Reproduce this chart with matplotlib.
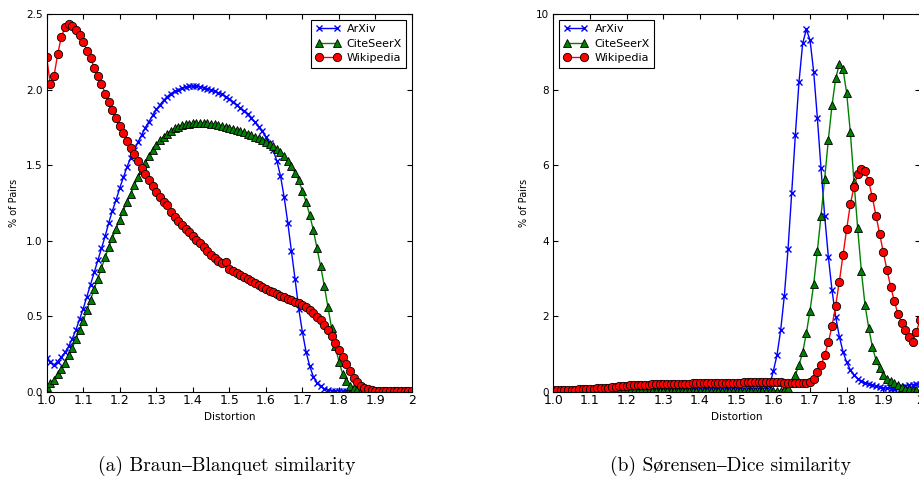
import matplotlib
matplotlib.use('Agg')
import matplotlib.pyplot as plt
import numpy as np

plt.rcParams.update({
    'font.family': 'DejaVu Sans',
    'axes.linewidth': 0.8,
    'xtick.direction': 'in',
    'ytick.direction': 'in',
    'xtick.top': True,
    'ytick.right': True,
    'xtick.major.size': 3.5,
    'ytick.major.size': 3.5,
    'xtick.major.pad': 2,
    'ytick.major.pad': 3,
})

# distortion grid (step 0.01)
distortion = np.linspace(1.0, 2.0, 101)

# ---- (a) Braun-Blanquet: % of pairs per distortion bin ----
bb_arxiv = [
    0.225, 0.195, 0.178, 0.20, 0.23, 0.26, 0.30, 0.35, 0.41, 0.48,
    0.55, 0.63, 0.71, 0.79, 0.87, 0.95, 1.03, 1.12, 1.20, 1.27,
    1.35, 1.42, 1.49, 1.55, 1.60, 1.655, 1.70, 1.75, 1.79, 1.83,
    1.87, 1.90, 1.93, 1.955, 1.975, 1.99, 2.0, 2.01, 2.018, 2.022,
    2.025, 2.024, 2.02, 2.015, 2.008, 2.0, 1.99, 1.98, 1.97, 1.955,
    1.94, 1.92, 1.90, 1.88, 1.86, 1.84, 1.81, 1.785, 1.755, 1.725,
    1.69, 1.65, 1.60, 1.53, 1.43, 1.29, 1.12, 0.93, 0.745, 0.55,
    0.395, 0.265, 0.17, 0.10, 0.06, 0.035, 0.02, 0.012, 0.008, 0.006,
    0.005, 0.005, 0.004, 0.004, 0.004, 0.004, 0.003, 0.003, 0.003, 0.003,
    0.003, 0.003, 0.003, 0.003, 0.003, 0.003, 0.003, 0.003, 0.003, 0.003,
    0.003,
]
bb_citeseerx = [
    0.03, 0.055, 0.08, 0.115, 0.15, 0.19, 0.24, 0.29, 0.35, 0.41,
    0.47, 0.54, 0.61, 0.68, 0.75, 0.82, 0.89, 0.96, 1.02, 1.08,
    1.14, 1.20, 1.26, 1.31, 1.37, 1.42, 1.47, 1.515, 1.56, 1.60,
    1.635, 1.665, 1.69, 1.71, 1.73, 1.745, 1.755, 1.765, 1.772, 1.776,
    1.778, 1.779, 1.779, 1.778, 1.777, 1.775, 1.772, 1.767, 1.762, 1.756,
    1.75, 1.743, 1.735, 1.727, 1.718, 1.709, 1.70, 1.69, 1.68, 1.668,
    1.655, 1.64, 1.625, 1.605, 1.585, 1.56, 1.53, 1.495, 1.45, 1.40,
    1.33, 1.26, 1.17, 1.07, 0.95, 0.83, 0.70, 0.56, 0.42, 0.30,
    0.20, 0.12, 0.07, 0.04, 0.025, 0.015, 0.01, 0.007, 0.005, 0.004,
    0.004, 0.003, 0.003, 0.003, 0.003, 0.003, 0.003, 0.003, 0.003, 0.003,
    0.003,
]
bb_wikipedia = [
    2.215, 2.036, 2.09, 2.235, 2.35, 2.414, 2.434, 2.42, 2.396, 2.363,
    2.317, 2.26, 2.21, 2.147, 2.094, 2.04, 1.975, 1.92, 1.866, 1.813,
    1.758, 1.712, 1.659, 1.612, 1.572, 1.528, 1.484, 1.444, 1.404, 1.362,
    1.322, 1.29, 1.256, 1.237, 1.19, 1.158, 1.132, 1.105, 1.08, 1.055,
    1.03, 1.005, 0.982, 0.958, 0.934, 0.908, 0.886, 0.866, 0.855, 0.862,
    0.81, 0.80, 0.788, 0.773, 0.758, 0.744, 0.731, 0.718, 0.706, 0.694,
    0.682, 0.670, 0.659, 0.648, 0.636, 0.625, 0.615, 0.605, 0.595, 0.585,
    0.572, 0.558, 0.542, 0.522, 0.498, 0.474, 0.445, 0.41, 0.368, 0.322,
    0.277, 0.232, 0.184, 0.135, 0.092, 0.062, 0.04, 0.025, 0.016, 0.011,
    0.008, 0.006, 0.005, 0.005, 0.005, 0.004, 0.004, 0.004, 0.004, 0.004,
    0.004,
]

# ---- (b) Sorensen-Dice ----
sd_arxiv = [
    0.01, 0.01, 0.012, 0.012, 0.013, 0.014, 0.015, 0.016, 0.018, 0.02,
    0.022, 0.024, 0.026, 0.028, 0.03, 0.033, 0.036, 0.039, 0.042, 0.045,
    0.048, 0.05, 0.052, 0.054, 0.056, 0.058, 0.06, 0.061, 0.062, 0.063,
    0.064, 0.065, 0.065, 0.066, 0.066, 0.067, 0.067, 0.067, 0.068, 0.068,
    0.068, 0.068, 0.069, 0.069, 0.069, 0.069, 0.07, 0.07, 0.07, 0.07,
    0.07, 0.07, 0.07, 0.07, 0.07, 0.072, 0.075, 0.08, 0.10, 0.16,
    0.55, 0.97, 1.63, 2.54, 3.77, 5.26, 6.80, 8.21, 9.23, 9.60,
    9.32, 8.48, 7.26, 5.92, 4.66, 3.58, 2.69, 1.99, 1.46, 1.06,
    0.78, 0.58, 0.44, 0.35, 0.28, 0.24, 0.20, 0.17, 0.14, 0.12,
    0.10, 0.09, 0.08, 0.08, 0.09, 0.12, 0.15, 0.18, 0.19, 0.20,
    0.20,
]
sd_citeseerx = [
    0.005, 0.005, 0.005, 0.006, 0.006, 0.006, 0.007, 0.007, 0.008, 0.008,
    0.009, 0.009, 0.01, 0.01, 0.011, 0.012, 0.012, 0.013, 0.014, 0.015,
    0.016, 0.016, 0.017, 0.018, 0.018, 0.019, 0.019, 0.02, 0.02, 0.02,
    0.021, 0.021, 0.021, 0.022, 0.022, 0.022, 0.022, 0.023, 0.023, 0.023,
    0.023, 0.023, 0.024, 0.024, 0.024, 0.024, 0.024, 0.025, 0.025, 0.025,
    0.025, 0.025, 0.025, 0.025, 0.025, 0.025, 0.025, 0.026, 0.026, 0.027,
    0.028, 0.029, 0.03, 0.05, 0.10, 0.22, 0.44, 0.71, 1.04, 1.55,
    2.15, 2.85, 3.73, 4.66, 5.65, 6.67, 7.59, 8.30, 8.68, 8.55,
    7.91, 6.87, 5.56, 4.33, 3.20, 2.30, 1.70, 1.19, 0.84, 0.62,
    0.44, 0.34, 0.28, 0.22, 0.17, 0.12, 0.08, 0.06, 0.05, 0.04,
    0.03,
]
sd_wikipedia = [
    0.04, 0.04, 0.045, 0.045, 0.05, 0.05, 0.055, 0.06, 0.065, 0.07,
    0.075, 0.08, 0.09, 0.095, 0.10, 0.11, 0.12, 0.13, 0.14, 0.15,
    0.16, 0.165, 0.17, 0.175, 0.18, 0.185, 0.19, 0.195, 0.20, 0.20,
    0.205, 0.207, 0.209, 0.21, 0.212, 0.214, 0.215, 0.216, 0.218, 0.22,
    0.222, 0.224, 0.226, 0.228, 0.23, 0.232, 0.234, 0.236, 0.238, 0.24,
    0.242, 0.244, 0.245, 0.246, 0.247, 0.248, 0.249, 0.25, 0.25, 0.25,
    0.25, 0.25, 0.245, 0.24, 0.235, 0.23, 0.23, 0.235, 0.24, 0.24,
    0.26, 0.35, 0.51, 0.70, 0.97, 1.31, 1.74, 2.28, 2.92, 3.62,
    4.31, 4.97, 5.43, 5.77, 5.89, 5.84, 5.58, 5.15, 4.66, 4.18,
    3.69, 3.22, 2.78, 2.40, 2.05, 1.83, 1.64, 1.46, 1.32, 1.59,
    1.90,
]

series_names = ['ArXiv', 'CiteSeerX', 'Wikipedia']
xtick_vals = [1.0, 1.1, 1.2, 1.3, 1.4, 1.5, 1.6, 1.7, 1.8, 1.9, 2.0]
xtick_labels = ['1.0', '1.1', '1.2', '1.3', '1.4', '1.5', '1.6', '1.7', '1.8', '1.9', '2']

styles = [
    dict(color='b', marker='x', ms=5, mew=1.0, lw=1.0),
    dict(color='g', marker='^', ms=6, mec='k', mew=0.6, lw=1.0),
    dict(color='r', marker='o', ms=6, mec='k', mew=0.6, lw=1.0),
]

fig = plt.figure(figsize=(9.19, 4.78), dpi=100)
ax1 = fig.add_axes([0.0508, 0.1805, 0.3975, 0.7895])
ax2 = fig.add_axes([0.6021, 0.1805, 0.3990, 0.7895])


def draw_panel(ax, data, yticks, yfmt, legend_loc):
    for name, vals, st in zip(series_names, data, styles):
        ax.plot(distortion, vals, label=name, **st)
    ax.set_xlim(1.0, 2.0)
    ax.set_ylim(yticks[0], yticks[-1])
    ax.set_xticks(xtick_vals)
    ax.set_xticklabels(xtick_labels)
    ax.set_yticks(yticks)
    ax.set_yticklabels([yfmt.format(v) for v in yticks])
    ax.tick_params(axis='x', labelsize=9)
    ax.tick_params(axis='y', labelsize=7.5)
    ax.set_xlabel('Distortion', fontsize=7.5, labelpad=3)
    ax.set_ylabel('% of Pairs', fontsize=7, labelpad=5)
    leg = ax.legend(loc=legend_loc, fontsize=8, numpoints=2, fancybox=False,
                    framealpha=1.0, edgecolor='k', handlelength=2.2,
                    borderaxespad=0.5, labelspacing=0.4, handletextpad=0.6)
    leg.get_frame().set_linewidth(0.8)


draw_panel(ax1, [bb_arxiv, bb_citeseerx, bb_wikipedia],
           [0.0, 0.5, 1.0, 1.5, 2.0, 2.5], '{:.1f}', 'upper right')
draw_panel(ax2, [sd_arxiv, sd_citeseerx, sd_wikipedia],
           [0, 2, 4, 6, 8, 10], '{:d}', 'upper left')

cap_font = dict(family=['cmr10', 'STIXGeneral', 'DejaVu Serif'], fontsize=14,
                ha='center', va='center')
fig.text(0.247, 0.026, '(a) Braun–Blanquet similarity', **cap_font)
fig.text(0.7954, 0.026, '(b) Sørensen–Dice similarity', **cap_font)

fig.savefig('out.png', dpi=100)
